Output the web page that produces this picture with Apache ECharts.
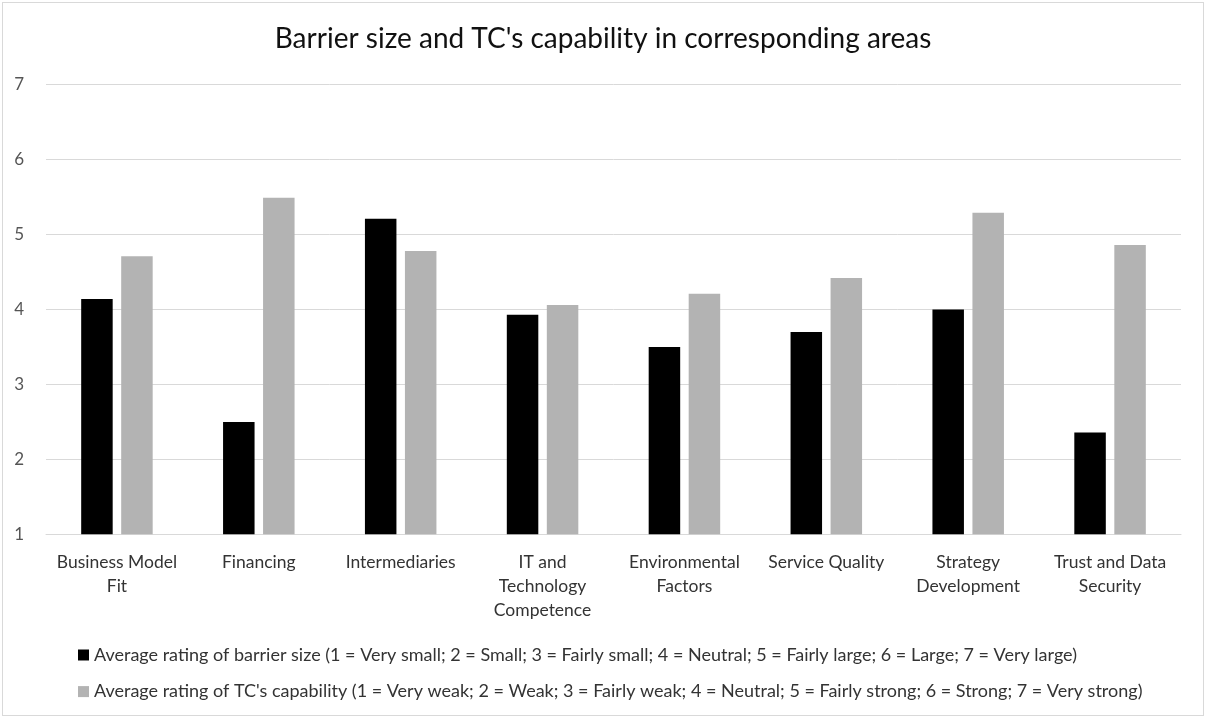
<!DOCTYPE html>
<html>
<head>
<meta charset="utf-8">
<script src="https://cdn.jsdelivr.net/npm/echarts@6/dist/echarts.min.js"></script>
<style>
  html, body { margin: 0; padding: 0; background: #fff; }
  #chart { position: absolute; left: 2px; top: 2px; width: 1202px; height: 714px; border: 1px solid #d9d9d9; box-sizing: border-box; }
</style>
</head>
<body>
<div id="chart"></div>
<script>
// Category labels (line breaks as shown under the axis)
const categories = [
  'Business Model\nFit',
  'Financing',
  'Intermediaries',
  'IT and\nTechnology\nCompetence',
  'Environmental\nFactors',
  'Service Quality',
  'Strategy\nDevelopment',
  'Trust and Data\nSecurity'
];

// Average rating of barrier size
const barrierSize = [4.14, 2.50, 5.21, 3.93, 3.50, 3.70, 4.00, 2.36];

// Average rating of TC's capability
const tcCapability = [4.71, 5.49, 4.78, 4.06, 4.21, 4.42, 5.29, 4.86];

const seriesNames = [
  'Average rating of barrier size (1 = Very small; 2 = Small; 3 = Fairly small; 4 = Neutral; 5 = Fairly large; 6 = Large; 7 = Very large)',
  "Average rating of TC's capability (1 = Very weak; 2 = Weak; 3 = Fairly weak; 4 = Neutral; 5 = Fairly strong; 6 = Strong; 7 = Very strong)"
];

const yTicks = { min: 1, max: 7, interval: 1 };

const FONT = 'Lato';
const chart = echarts.init(document.getElementById('chart'), null, { renderer: 'canvas' });

chart.setOption({
  animation: false,
  backgroundColor: '#ffffff',
  textStyle: { fontFamily: FONT },
  title: {
    text: "Barrier size and TC's capability in corresponding areas",
    left: 'center',
    top: 21,
    padding: 0,
    textStyle: { fontFamily: FONT, fontSize: 28, fontWeight: 'normal', color: '#111111', lineHeight: 30 }
  },
  legend: {
    orient: 'vertical',
    left: 75,
    top: 642.5,
    padding: 0,
    itemWidth: 11,
    itemHeight: 11,
    itemGap: 17.6,
    icon: 'rect',
    textStyle: { fontFamily: FONT, fontSize: 18, color: '#333333', lineHeight: 19 },
    data: seriesNames
  },
  grid: { left: 43, right: 22, top: 81.7, bottom: 180.7, containLabel: false },
  xAxis: {
    type: 'category',
    data: categories,
    axisLine: { show: true, lineStyle: { color: '#d9d9d9', width: 1 } },
    axisTick: { show: false },
    axisLabel: {
      interval: 0,
      margin: 16,
      fontFamily: FONT,
      fontSize: 17.5,
      lineHeight: 24,
      color: '#333333'
    }
  },
  yAxis: {
    type: 'value',
    min: yTicks.min,
    max: yTicks.max,
    interval: yTicks.interval,
    axisLine: { show: false },
    axisTick: { show: false },
    splitLine: { lineStyle: { color: '#d9d9d9', width: 1 } },
    axisLabel: { margin: 22, fontFamily: FONT, fontSize: 17, color: '#555555' }
  },
  series: [
    {
      name: seriesNames[0],
      type: 'bar',
      data: barrierSize,
      barWidth: 31.5,
      barGap: '27%',
      itemStyle: { color: '#000000' }
    },
    {
      name: seriesNames[1],
      type: 'bar',
      data: tcCapability,
      barWidth: 31.5,
      barGap: '27%',
      itemStyle: { color: '#b3b3b3' }
    }
  ]
});
</script>
</body>
</html>
